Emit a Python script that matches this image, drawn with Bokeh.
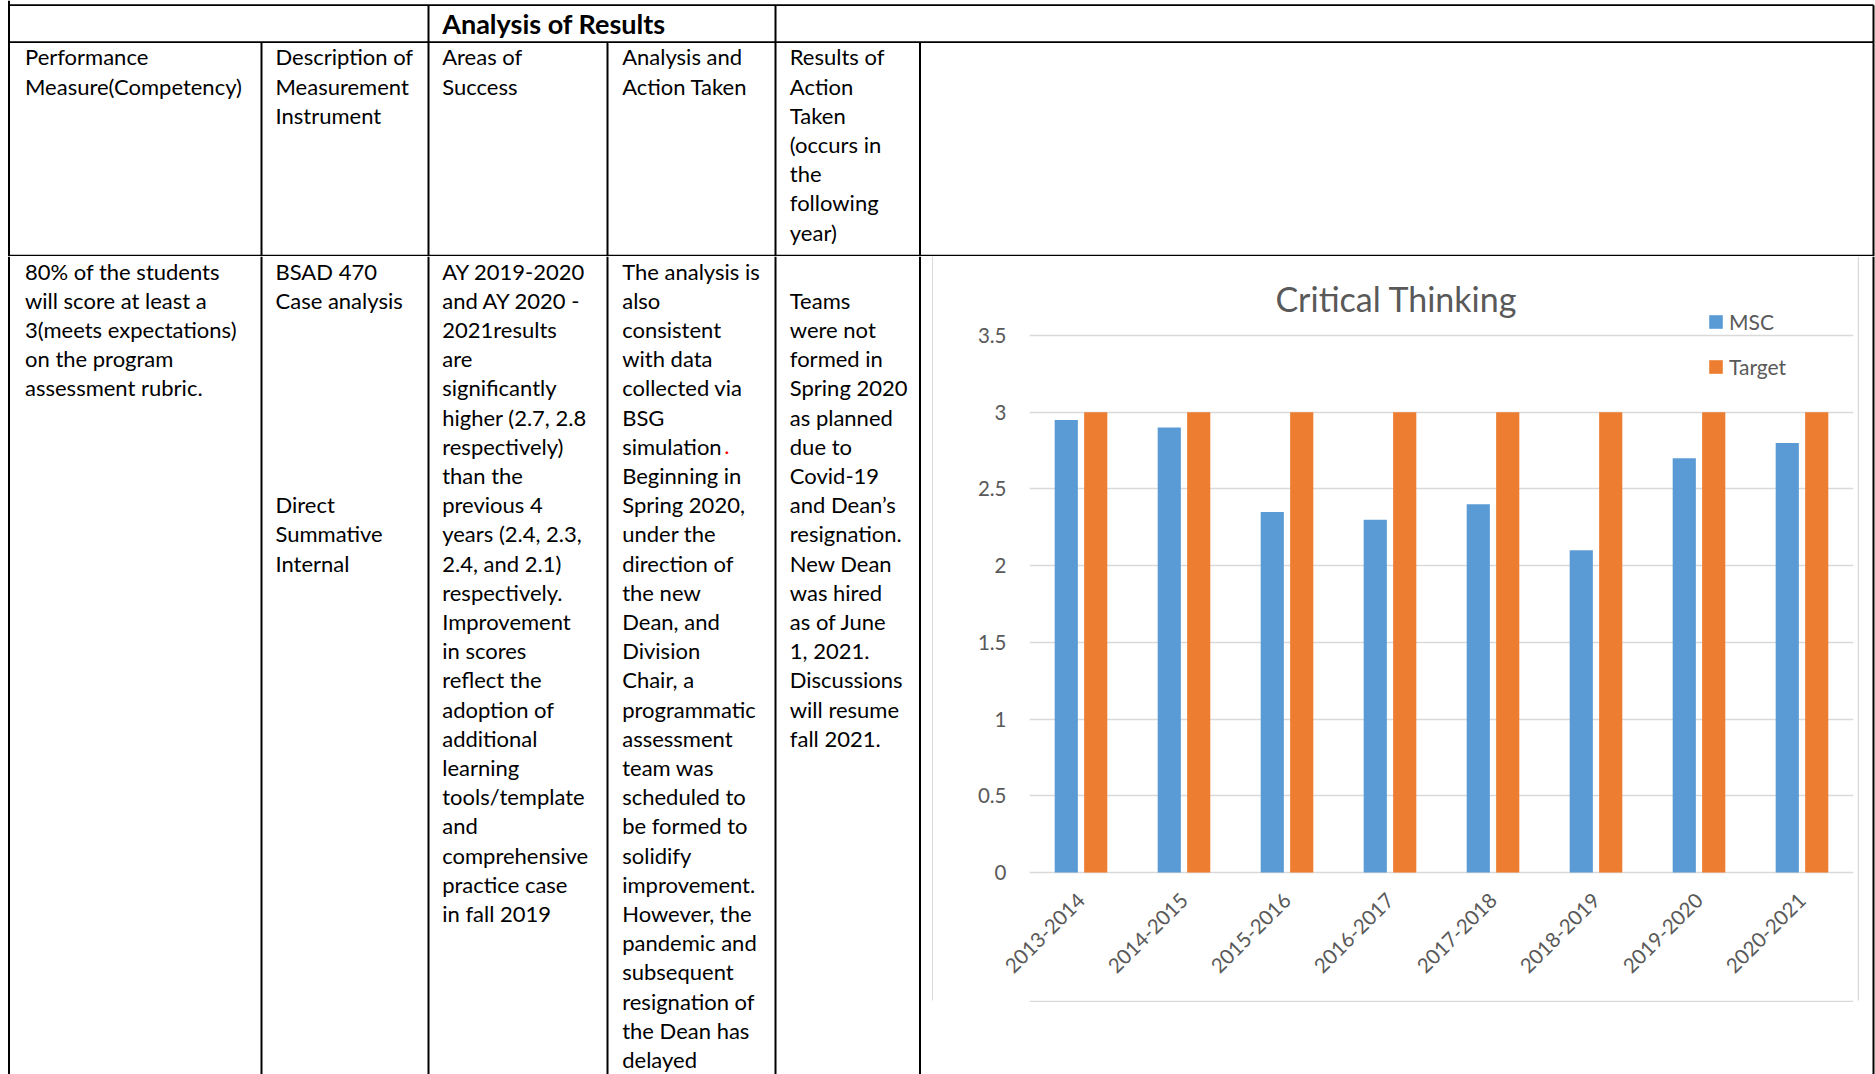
import math
from bokeh.plotting import figure
from bokeh.models import (ColumnDataSource, Range1d, FactorRange, FixedTicker,
                          Legend, LegendItem)
from bokeh.transform import dodge
from bokeh.layouts import row, column
from bokeh.core.properties import value
from bokeh.embed import file_html
from bokeh.resources import INLINE

# ---------------------------------------------------------------- data
years = ["2013-2014", "2014-2015", "2015-2016", "2016-2017",
         "2017-2018", "2018-2019", "2019-2020", "2020-2021"]
msc = [2.95, 2.9, 2.35, 2.3, 2.4, 2.1, 2.7, 2.8]
target = [3, 3, 3, 3, 3, 3, 3, 3]
series_names = ["MSC", "Target"]
y_ticks = [0, 0.5, 1, 1.5, 2, 2.5, 3, 3.5]
y_tick_labels = ["0", "0.5", "1", "1.5", "2", "2.5", "3", "3.5"]
chart_title = "Critical Thinking"

table_title = "Analysis of Results"
header_col1 = ["Performance", "Measure(Competency)"]
header_col2 = ["Description of", "Measurement", "Instrument"]
header_col3 = ["Areas of", "Success"]
header_col4 = ["Analysis and", "Action Taken"]
header_col5 = ["Results of", "Action", "Taken", "(occurs in", "the",
               "following", "year)"]

body_col1 = ["80% of the students", "will score at least a",
             "3(meets expectations)", "on the program", "assessment rubric."]
body_col2 = ["BSAD 470", "Case analysis", "", "", "", "", "", "",
             "Direct", "Summative", "Internal"]
body_col3 = ["AY 2019-2020", "and AY 2020 -", "2021results", "are",
             "significantly", "higher (2.7, 2.8", "respectively)", "than the",
             "previous 4", "years (2.4, 2.3,", "2.4, and 2.1)", "respectively.",
             "Improvement", "in scores", "reflect the", "adoption of",
             "additional", "learning", "tools/template", "and",
             "comprehensive", "practice case", "in fall 2019"]
body_col4 = ["The analysis is", "also", "consistent", "with data",
             "collected via", "BSG", "simulation", "Beginning in",
             "Spring 2020,", "under the", "direction of", "the new",
             "Dean, and", "Division", "Chair, a", "programmatic",
             "assessment", "team was", "scheduled to", "be formed to",
             "solidify", "improvement.", "However, the", "pandemic and",
             "subsequent", "resignation of", "the Dean has", "delayed"]
red_mark = "."          # red full stop after "simulation"
red_mark_line = 6
body_col5 = ["", "Teams", "were not", "formed in", "Spring 2020",
             "as planned", "due to", "Covid-19", "and Dean\u2019s",
             "resignation.", "New Dean", "was hired", "as of June",
             "1, 2021.", "Discussions", "will resume", "fall 2021."]

# ---------------------------------------------------------------- styles / geometry
FONT = "Lato"
BLUE = "#5B9BD5"
ORANGE = "#ED7D31"
GREY_TXT = "#595959"
GRID = "#D9D9D9"

W, H = 1875, 1074
TOP_H = 256
BOT_H = H - TOP_H
LEFT_W = 933
CHART_W, CHART_H = 924, 744
RIGHT_W = W - LEFT_W - CHART_W

X_LINES = [8.5, 261, 428, 607, 775, 919.5]
X_RIGHT = 1873
TEXT_X = [24.5, 275, 441.7, 621.7, 789.3]
LINE_STEP = 29.2
HEAD_Y0 = 56.3
BODY_Y0 = 14.5
TXT_SIZE = "22px"


def canvas_fig(w, h):
    p = figure(width=w, height=h, x_range=Range1d(0, w), y_range=Range1d(h, 0),
               x_axis_location=None, y_axis_location=None,
               toolbar_location=None, output_backend="svg", min_border=0,
               outline_line_color=None, background_fill_color="white",
               border_fill_color="white")
    p.xgrid.visible = False
    p.ygrid.visible = False
    return p


def draw_lines(p, lines, x, y0, **kw):
    xs, ys, ts = [], [], []
    for i, t in enumerate(lines):
        if t:
            xs.append(x)
            ys.append(y0 + i * LINE_STEP)
            ts.append(t)
    opts = dict(text_font=value(FONT), text_font_size=TXT_SIZE,
                text_color="black", text_baseline="alphabetic",
                text_align="left")
    opts.update(kw)
    p.text(x=xs, y=ys, text=ts, **opts)


def vlines(p, xs, y0, y1, color="black", width=2):
    p.segment(x0=xs, y0=[y0] * len(xs), x1=xs, y1=[y1] * len(xs),
              line_color=color, line_width=width)


def hlines(p, ys, x0, x1, color="black", width=1.7):
    p.segment(x0=[x0] * len(ys), y0=ys, x1=[x1] * len(ys), y1=ys,
              line_color=color, line_width=width)


# ---------------------------------------------------------------- top (header rows)
top = canvas_fig(W, TOP_H)
hlines(top, [4.7, 41.7, 255], X_LINES[0], X_RIGHT)
vlines(top, [X_LINES[0]], 0, TOP_H)
vlines(top, [X_LINES[2], X_LINES[4], X_RIGHT], 4.7, 41.7)
vlines(top, X_LINES[1:] + [X_RIGHT], 41.7, TOP_H)
top.text(x=[TEXT_X[2]], y=[23.0], text=[table_title], text_font=value(FONT),
         text_font_size="27px", text_font_style="bold", text_color="black",
         text_baseline="alphabetic", text_align="left")
for col, x in zip([header_col1, header_col2, header_col3, header_col4, header_col5], TEXT_X):
    draw_lines(top, col, x, HEAD_Y0)

# ---------------------------------------------------------------- left body
left = canvas_fig(LEFT_W, BOT_H)
vlines(left, X_LINES, 0, BOT_H)
vlines(left, [LEFT_W - 0.75], 0, CHART_H, color=GRID, width=1.5)
for col, x in zip([body_col1, body_col2, body_col3, body_col4, body_col5], TEXT_X):
    draw_lines(left, col, x, BODY_Y0)
left.text(x=[TEXT_X[3] + 102], y=[BODY_Y0 + red_mark_line * LINE_STEP],
          text=[red_mark], text_font=value(FONT), text_font_size=TXT_SIZE,
          text_color="#FF0000", text_baseline="alphabetic", text_align="left")

# ---------------------------------------------------------------- chart
src = ColumnDataSource(dict(year=years, msc=msc, target=target))
cp = figure(width=CHART_W, height=CHART_H, x_range=FactorRange(*years),
            y_range=Range1d(-0.02, 3.6895), toolbar_location=None,
            output_backend="svg", min_border_left=96, min_border_right=4,
            min_border_top=50, min_border_bottom=125, outline_line_color=None,
            background_fill_color="white", border_fill_color="white")
r1 = cp.vbar(x=dodge("year", -0.143, range=cp.x_range), top="msc", width=0.225,
             source=src, fill_color=BLUE, line_color=None)
r2 = cp.vbar(x=dodge("year", 0.143, range=cp.x_range), top="target", width=0.225,
             source=src, fill_color=ORANGE, line_color=None)

cp.title.text = chart_title
cp.title.align = "left"
cp.title.offset = 246
cp.title.text_font = FONT
cp.title.text_font_size = "34px"
cp.title.text_font_style = "normal"
cp.title.text_color = GREY_TXT
cp.title.standoff = -24

cp.xgrid.visible = False
cp.ygrid.grid_line_color = GRID
cp.ygrid.grid_line_width = 1.5

for ax in (cp.xaxis, cp.yaxis):
    ax.axis_line_color = None
    ax.major_tick_line_color = None
    ax.minor_tick_line_color = None
    ax.major_tick_out = 0
    ax.major_tick_in = 0
    ax.major_label_text_font = FONT
    ax.major_label_text_font_size = "20.5px"
    ax.major_label_text_color = GREY_TXT
cp.xaxis.major_label_orientation = math.pi / 4
cp.xaxis.major_label_standoff = 21
cp.yaxis.ticker = FixedTicker(ticks=y_ticks)
cp.yaxis.major_label_overrides = dict(zip(y_ticks, y_tick_labels))
cp.yaxis.major_label_standoff = 23

legend = Legend(items=[LegendItem(label=series_names[0], renderers=[r1]),
                       LegendItem(label=series_names[1], renderers=[r2])],
                location=(678, 496), orientation="vertical",
                glyph_width=17, glyph_height=17, label_standoff=5,
                spacing=20, padding=0, margin=0, background_fill_alpha=0,
                border_line_color=None, label_text_font=FONT,
                label_text_font_size="21px", label_text_color=GREY_TXT)
cp.add_layout(legend)

chart_bottom = canvas_fig(CHART_W, BOT_H - CHART_H)
hlines(chart_bottom, [0.75], 0, CHART_W, color=GRID, width=1.5)

# ---------------------------------------------------------------- right strip
right = canvas_fig(RIGHT_W, BOT_H)
vlines(right, [0.75], 0, CHART_H, color=GRID, width=1.5)
vlines(right, [X_RIGHT - LEFT_W - CHART_W], 0, BOT_H)

page = column(top,
              row(left, column(cp, chart_bottom, spacing=0), right, spacing=0),
              spacing=0)

open("out.html", "w").write(file_html(page, INLINE))
